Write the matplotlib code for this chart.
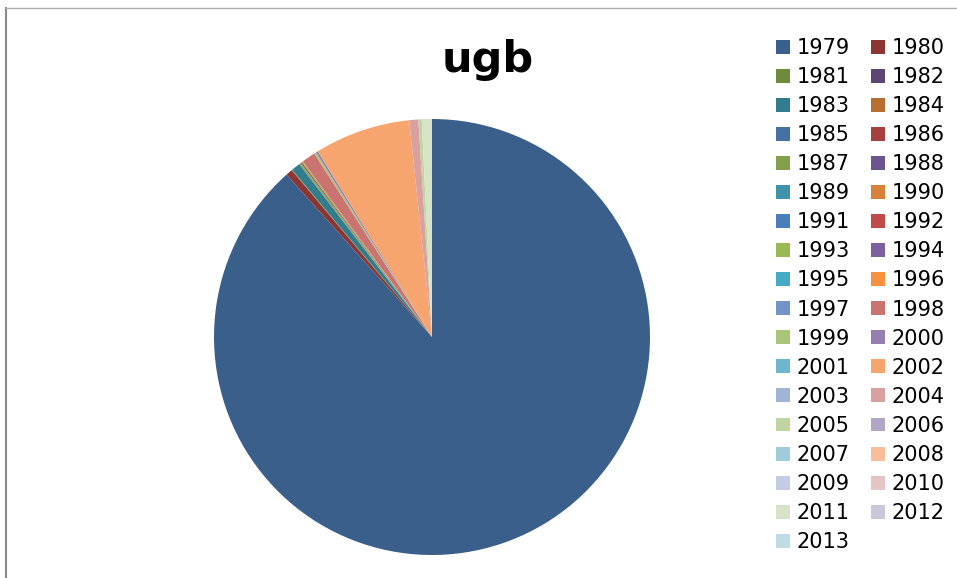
import matplotlib
matplotlib.use("Agg")
import matplotlib.pyplot as plt
from matplotlib.lines import Line2D
from matplotlib.patches import Patch

years = [str(y) for y in range(1979, 2014)]
# share of total (percent)
values = [88.3, 0.5, 0.05, 0, 0.65, 0, 0, 0, 0.1, 0, 0.05, 0, 0, 0.1, 0.1, 0,
          0, 0, 0, 1.0, 0.15, 0.15, 0, 7.1, 0, 0.67, 0.25, 0, 0, 0, 0, 0,
          0.75, 0, 0]
colors = ["#3A5F8B", "#8B3634", "#6F8A3A", "#5B4674", "#327D8D", "#B86D31",
          "#4470A4", "#A6403E", "#84A04A", "#6C5490", "#3F93A9", "#D98139",
          "#4A7EBB", "#BE4B48", "#98B954", "#7D60A0", "#46AAC5", "#F69240",
          "#7394C7", "#CA7370", "#AAC57A", "#957FB0", "#6EB5CE", "#F7A56E",
          "#A0B4D6", "#D8A09F", "#C0D4A2", "#B2A6C6", "#9FCBDB", "#F9BD9A",
          "#C2CCE4", "#E4C4C4", "#D7E3C7", "#CDC6D8", "#BFDCE5"]

W, H = 957, 578
fig = plt.figure(figsize=(W / 100, H / 100), dpi=100)

# pie: centre (432, 337) px, radius 218 px
cx, cy, r = 432, 337, 218
ax = fig.add_axes([(cx - r) / W, (H - cy - r) / H, 2 * r / W, 2 * r / H])
ax.pie(values, colors=colors, startangle=90, counterclock=False,
       wedgeprops={"linewidth": 0})
ax.set_xlim(-1, 1)
ax.set_ylim(-1, 1)
ax.set_aspect("equal")
ax.axis("off")

fig.text(488 / W, 1 - 60 / H, "ugb", ha="center", va="center",
         fontsize=31, fontweight="bold")

# legend, row-major order like the original
handles = [Patch(facecolor=c, edgecolor="none") for c in colors]
order = list(range(0, 35, 2)) + list(range(1, 35, 2))
fig.legend([handles[i] for i in order], [years[i] for i in order],
           ncol=2, loc="upper left", bbox_to_anchor=(776 / W, 1 - 38 / H),
           frameon=False, fontsize=15, handlelength=0.65, handleheight=0.65,
           handletextpad=0.35, columnspacing=1.0, labelspacing=0.435,
           borderpad=0, borderaxespad=0)

# chart border (only left and top visible)
fig.add_artist(Line2D([5.5 / W, 5.5 / W], [0, 1 - 8 / H], color="#8a8a8a",
                      linewidth=1.5, transform=fig.transFigure))
fig.add_artist(Line2D([5.5 / W, 1], [1 - 8 / H, 1 - 8 / H], color="#b0b0b0",
                      linewidth=1.0, transform=fig.transFigure))

fig.savefig("out.png", dpi=100)
